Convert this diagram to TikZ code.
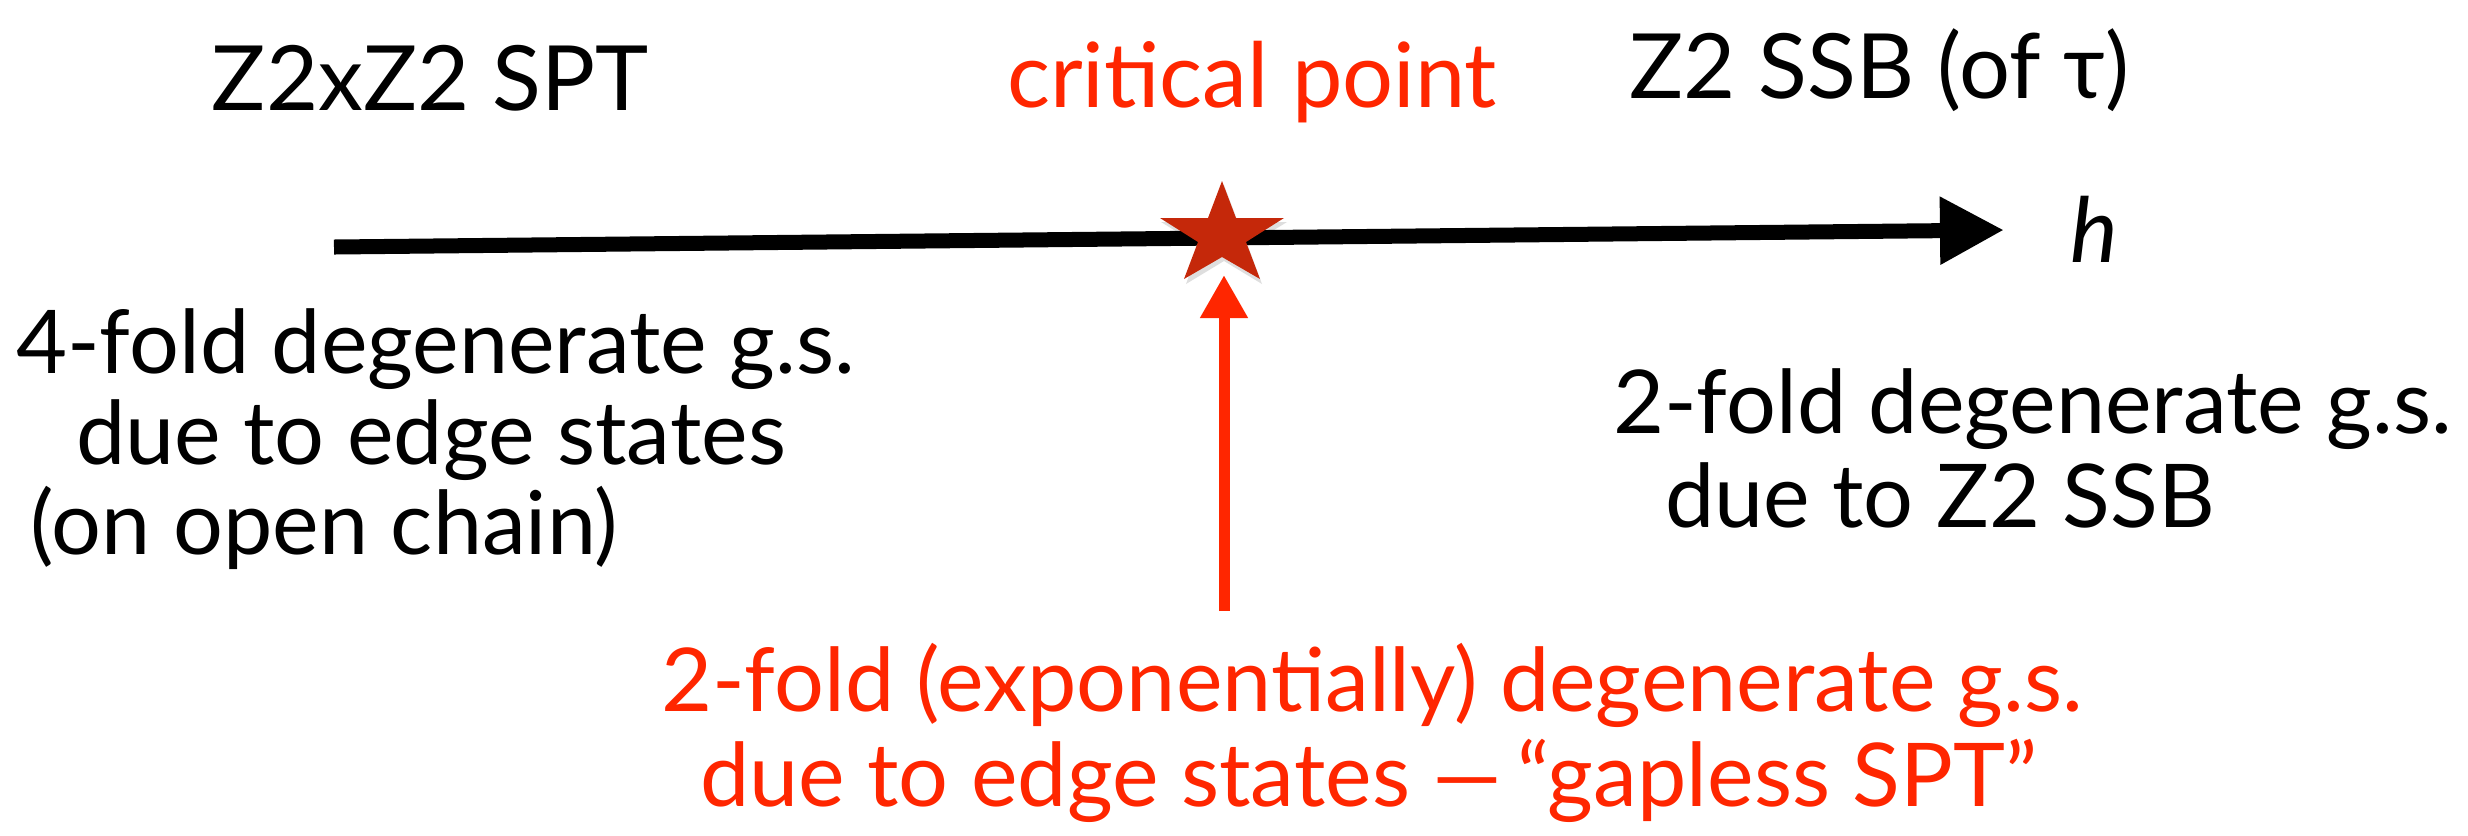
\documentclass[tikz,border=0pt]{standalone}
\usepackage{fontspec}
\setmainfont{Lato}
\usetikzlibrary{arrows.meta}
\definecolor{keyred}{RGB}{255,38,0}
\definecolor{starred}{RGB}{197,40,10}
\begin{document}
\begin{tikzpicture}[x=0.01cm,y=-0.01cm,
  lbl/.style={inner sep=0pt,outer sep=0pt,anchor=base west,font=\fontsize{0.88cm}{1cm}\selectfont},
  toplbl/.style={lbl,font=\fontsize{0.9cm}{1cm}\selectfont},
  redlbl/.style={lbl,text=keyred},
  axisline/.style={line width=0.15cm,-{Triangle[length=0.64cm,width=0.64cm]}},
  redarrow/.style={keyred,line width=0.11cm,-{Triangle[length=0.43cm,width=0.45cm]}}]
\useasboundingbox (0,0) rectangle (2468,835);
% top labels
\node[toplbl] (spt) at (212,110) {Z2xZ2 SPT};
\node[toplbl,text=keyred] (crit) at (1007,107) {critical point};
\node[toplbl] (ssb) at (1629,98) {Z2 SSB (of τ)};
% axis
\coordinate (a0) at (334,247);
\coordinate (a1) at (2004,230);
\draw[axisline] (a0) -- (a1);
\node[lbl,font=\fontsize{0.9cm}{1cm}\selectfont\itshape] (h) at (2070,262) {h};
% star (critical point marker), slightly wider than a regular star
\coordinate (sc) at (1222,235);
\coordinate (ss) at (1224,239);
\fill[black,opacity=0.13] (ss) +(0,-54) -- +(14,-17) -- +(63,-17) -- +(24,7) -- +(38,45)
  -- +(0,22) -- +(-38,45) -- +(-24,7) -- +(-63,-17) -- +(-14,-17) -- cycle;
\fill[starred] (sc) +(0,-54) -- +(14,-17) -- +(62,-17) -- +(24,7) -- +(38,44)
  -- +(0,22) -- +(-38,44) -- +(-24,7) -- +(-62,-17) -- +(-14,-17) -- cycle;
% left block
\node[lbl] (l1) at (16,373) {4-fold degenerate g.s.};
\node[lbl] (l2) at (76,464) {due to edge states};
\node[lbl] (l3) at (31,554) {(on open chain)};
% right block
\node[lbl] (r1) at (1613,433) {2-fold degenerate g.s.};
\node[lbl] (r2) at (1665,527) {due to Z2 SSB};
% red arrow and text
\coordinate (rb) at (1224,611);
\coordinate (rt) at (1224,275);
\draw[redarrow] (rb) -- (rt);
\node[redlbl] (m1) at (661,711) {2-fold (exponentially) degenerate g.s.};
\node[redlbl] (m2) at (700,806) {due to edge states —\,“gapless SPT”};
\end{tikzpicture}
\end{document}
